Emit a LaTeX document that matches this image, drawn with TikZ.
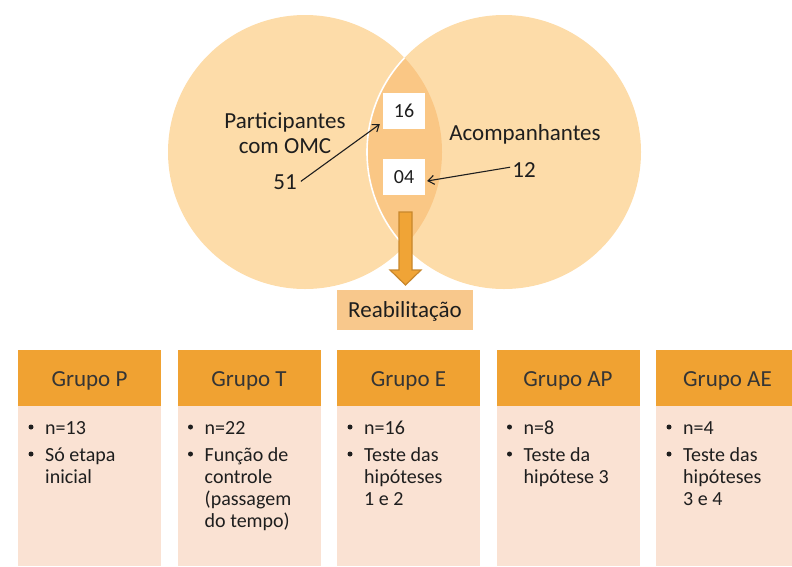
\documentclass[tikz,border=0pt]{standalone}
\usepackage{fontspec}
\setmainfont{Carlito}
\usetikzlibrary{arrows.meta}
\definecolor{circ}{HTML}{FDDCA9}
\definecolor{lens}{HTML}{FAC785}
\definecolor{hdr}{HTML}{F0A232}
\definecolor{bodyc}{HTML}{FAE2D3}
\definecolor{reab}{HTML}{F8C88C}
\definecolor{darr}{HTML}{F0A436}
\definecolor{darrb}{HTML}{C8872C}
\definecolor{ink}{HTML}{1E1E1E}
\tikzset{
 lbl/.style={anchor=base, font=\fontsize{23}{26}\selectfont, text=ink, inner sep=0},
 numbox/.style={fill=white, minimum width=42pt, minimum height=36pt, inner sep=0, font=\fontsize{20}{22}\selectfont, text=ink},
 ptr/.style={draw=ink, line width=1.1pt, -{Straight Barb[length=6pt,width=9pt]}},
 hdrtext/.style={anchor=base, font=\fontsize{23}{26}\selectfont, text=ink!90, inner sep=0},
 itemtext/.style={anchor=base west, inner sep=0, text=ink, font=\fontsize{20}{22}\selectfont},
 dot/.style={circle, fill=ink, inner sep=0, minimum size=5pt},
}
\newcommand{\itm}[1]{\parbox[t]{112pt}{\raggedright #1}}
\begin{document}
\begin{tikzpicture}[x=1pt,y=-1pt]
\useasboundingbox (0,0) rectangle (792,566);
% Venn circles
\fill[circ] (305,152) circle (137);
\fill[circ] (504,152) circle (137);
\begin{scope}
 \clip (305,152) circle (137);
 \fill[lens] (504,152) circle (137);
\end{scope}
\begin{scope}
 \clip (305,152) circle (137);
 \draw[white, line width=1.6pt] (504,152) circle (137);
\end{scope}
% labels
\node[lbl] (part) at (285,128) {Participantes};
\node[lbl] (omc) at (285,153) {com OMC};
\node[lbl] (n51) at (285,189) {51};
\node[lbl] (acomp) at (525,140) {Acompanhantes};
\node[lbl] (n12) at (524,177) {12};
\node[numbox] (b16) at (404,111) {16};
\node[numbox] (b04) at (404,177) {04};
\draw[ptr] ([xshift=4pt,yshift=8pt]n51.south east) -- ([xshift=-3pt,yshift=5pt]b16.south west);
\draw[ptr] ([xshift=-2pt,yshift=10pt]n12.south west) -- ([xshift=2pt,yshift=-4pt]b04.east);
% down arrow
\filldraw[fill=darr, draw=darrb, line width=1.2pt]
 (399,212) -- (412,212) -- (412,270) -- (421,270) -- (405.5,285) -- (390,270) -- (399,270) -- cycle;
\node[fill=reab, minimum width=136pt, minimum height=40pt, inner sep=0] (reabbox) at (405,310) {};
\node[lbl] (reab) at (405,317) {Reabilitação};
% group boxes
\foreach \xl/\w in {18/143, 177.5/143, 337/143, 496.5/143, 656/136} {
 \fill[hdr] (\xl,350) rectangle ++(\w,56);
 \fill[bodyc] (\xl,406) rectangle ++(\w,160);
}
\node[hdrtext] (gP) at (89.5,386) {Grupo P};
\node[hdrtext] (gT) at (249,386) {Grupo T};
\node[hdrtext] (gE) at (408.5,386) {Grupo E};
\node[hdrtext] (gAP) at (568,386) {Grupo AP};
\node[hdrtext] (gAE) at (727.5,386) {Grupo AE};
% items
\foreach \xl/\nm/\a/\b in {18/P/n=13/{Só etapa\\inicial}, 177.5/T/n=22/{Função de\\controle\\(passagem\\do tempo)}, 337/E/n=16/{Teste das\\hipóteses\\1 e 2}, 496.5/AP/n=8/{Teste da\\hipótese 3}, 656/AE/n=4/{Teste das\\hipóteses\\3 e 4}} {
 \node[dot] (d1\nm) at (\xl+13,427) {};
 \node[itemtext] (i1\nm) at (\xl+27,434) {\itm{\a}};
 \node[dot] (d2\nm) at (\xl+13,454) {};
 \node[itemtext] (i2\nm) at (\xl+27,461) {\itm{\b}};
}
\end{tikzpicture}
\end{document}
